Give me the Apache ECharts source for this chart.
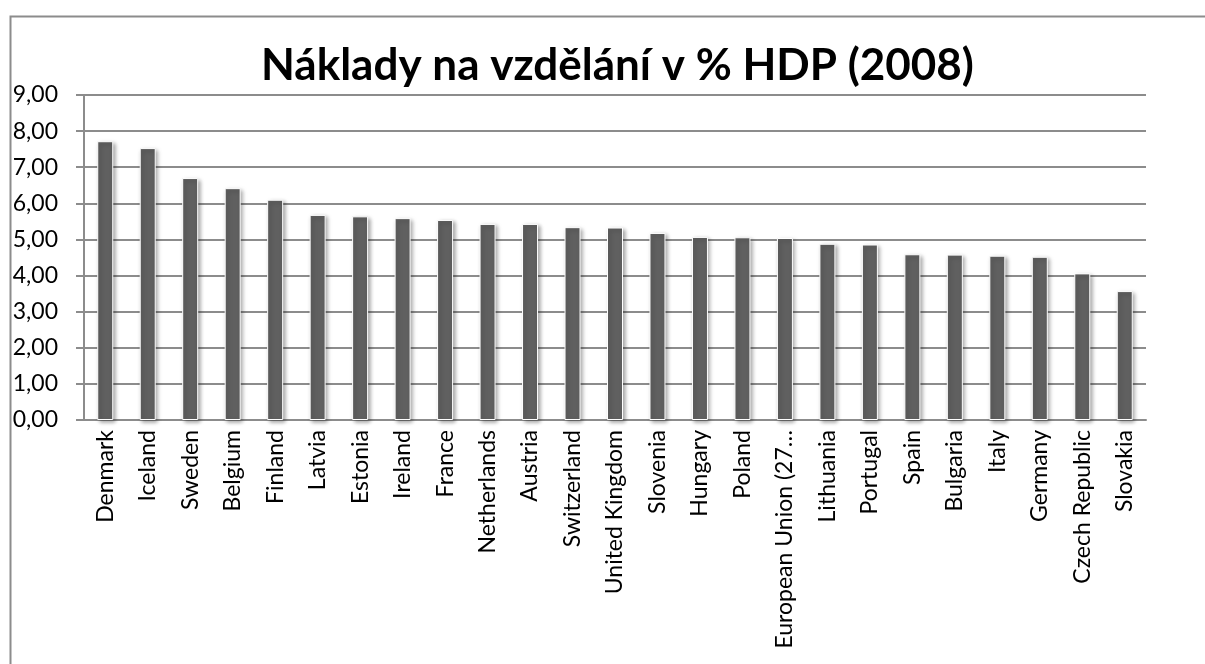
<!DOCTYPE html>
<html>
<head>
<meta charset="utf-8">
<script src="https://cdn.jsdelivr.net/npm/echarts@6/dist/echarts.min.js"></script>
<style>
  html, body { margin: 0; padding: 0; background: #fff; }
  #main { width: 1205px; height: 664px; }
</style>
</head>
<body>
<div id="main"></div>
<script>
var countries = ['Denmark', 'Iceland', 'Sweden', 'Belgium', 'Finland', 'Latvia', 'Estonia', 'Ireland',
  'France', 'Netherlands', 'Austria', 'Switzerland', 'United Kingdom', 'Slovenia', 'Hungary', 'Poland',
  'European Union (27 countries)', 'Lithuania', 'Portugal', 'Spain', 'Bulgaria', 'Italy', 'Germany',
  'Czech Republic', 'Slovakia'];
var spending = [7.72, 7.53, 6.70, 6.42, 6.10, 5.68, 5.64, 5.59,
  5.54, 5.43, 5.43, 5.34, 5.33, 5.18, 5.07, 5.06,
  5.04, 4.88, 4.86, 4.59, 4.58, 4.55, 4.52,
  4.06, 3.57];
var chartTitle = 'Náklady na vzdělání v % HDP (2008)';

var chart = echarts.init(document.getElementById('main'));
var fontFam = 'Lato, "Open Sans", sans-serif';

var option = {
  animation: false,
  title: {
    text: chartTitle,
    left: 256,
    top: 39,
    textStyle: { fontFamily: fontFam, fontWeight: 'bold', fontSize: 44, color: '#000' }
  },
  graphic: [{
    type: 'rect',
    left: 8, top: 14,
    shape: { width: 1220, height: 680 },
    style: { fill: 'none', stroke: '#8c8c8c', lineWidth: 2 },
    silent: true
  }],
  grid: { left: 84, right: 59, top: 95, bottom: 244 },
  xAxis: {
    type: 'category',
    data: countries,
    axisLine: { lineStyle: { color: '#8c8c8c', width: 2 } },
    axisTick: { length: 8, lineStyle: { color: '#8c8c8c', width: 2 } },
    axisLabel: {
      rotate: 90, margin: 10, interval: 0,
      fontFamily: fontFam, fontSize: 23, color: '#000',
      width: 220, overflow: 'truncate', ellipsis: '…'
    }
  },
  yAxis: {
    type: 'value',
    min: 0, max: 9, interval: 1,
    axisLine: { show: true, lineStyle: { color: '#8c8c8c', width: 2 } },
    axisTick: { show: true, length: 8, lineStyle: { color: '#8c8c8c', width: 2 } },
    splitLine: { lineStyle: { color: '#8c8c8c', width: 2 } },
    axisLabel: {
      margin: 26, fontFamily: fontFam, fontSize: 23, color: '#000',
      formatter: function (v) { return v.toFixed(2).replace('.', ','); }
    }
  },
  series: [{
    type: 'bar',
    data: spending,
    barWidth: 16,
    itemStyle: {
      color: '#606060',
      borderColor: '#ffffff',
      borderWidth: 1,
      shadowBlur: 4,
      shadowOffsetX: 2,
      shadowOffsetY: 2,
      shadowColor: 'rgba(0,0,0,0.35)'
    }
  }]
};
chart.setOption(option);
</script>
</body>
</html>
